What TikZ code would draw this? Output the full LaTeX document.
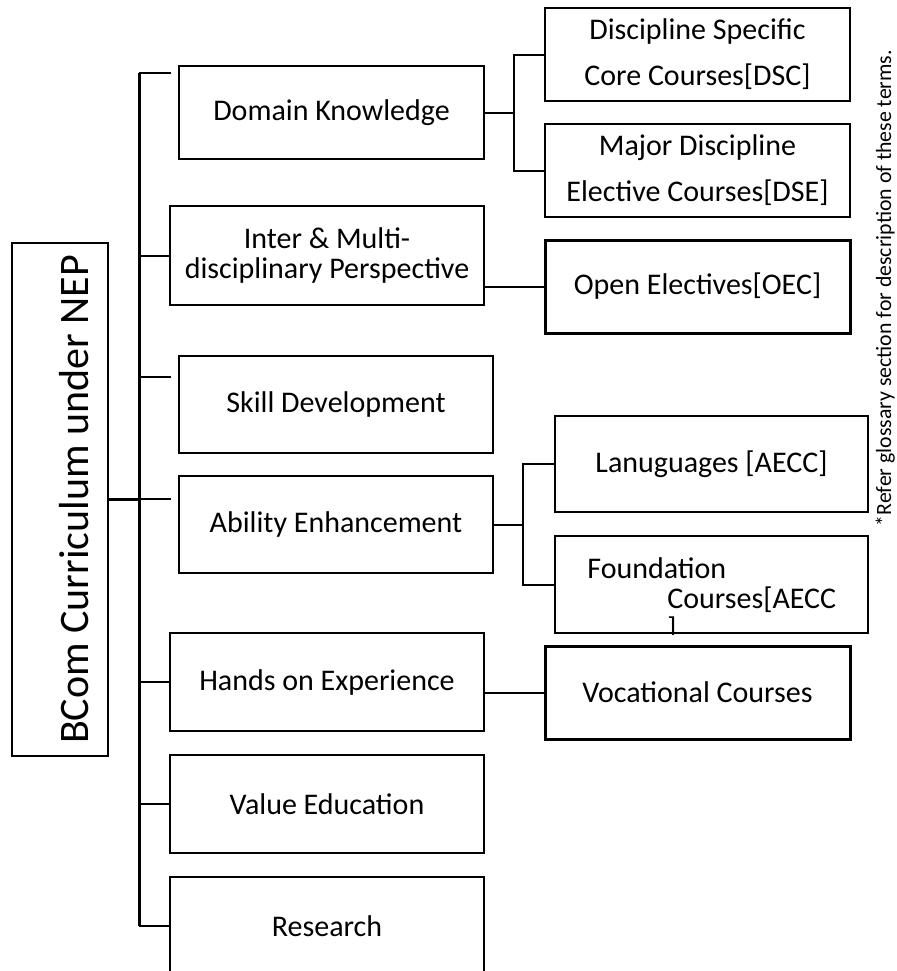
\documentclass[tikz,border=0pt]{standalone}
\usepackage{fontspec}
\setmainfont{Carlito}
\usetikzlibrary{positioning}

\begin{document}
\begin{tikzpicture}[
    x=0.5pt, y=-0.5pt,
    font=\fontsize{15}{18}\selectfont,
    box/.style={draw, line width=1pt, fill=white, align=center, inner sep=0pt, minimum width=157pt, minimum height=49pt},
    slimbox/.style={box, minimum width=152.5pt, minimum height=46.5pt},
    heavybox/.style={slimbox, line width=1.5pt},
    twoline/.style={font=\fontsize{15}{23}\selectfont},
    link/.style={line width=1pt},
    trunkline/.style={line width=1.5pt},
]
\useasboundingbox (0,0) rectangle (896,971);
\clip (0,0) rectangle (896,971);

% Root box
\node[box, rotate=90, minimum width=256.5pt, minimum height=48pt, font=\fontsize{21}{25}\selectfont, text height=28pt, text depth=0pt] (bcom) at (60,499.5) {BCom Curriculum under NEP};

% First level
\node[slimbox] (domain) at (331.5,112.5) {Domain Knowledge};
\node[box, minimum height=49.5pt, font=\fontsize{15}{15}\selectfont] (inter) at (327,255.5) {Inter \& Multi-\\disciplinary Perspective};
\node[box, minimum height=48.5pt] (skill)   at (336,404.5) {Skill Development};
\node[box, minimum height=48.5pt] (ability) at (336,524.5) {Ability Enhancement};
\node[box] (hands)    at (327,682) {Hands on Experience};
\node[box] (value)    at (327,804) {Value Education};
\node[box] (research) at (327,926) {Research};

% Second level
\node[slimbox, twoline] (dsc) at (697.5,54.5)  {Discipline Specific\\Core Courses[DSC]};
\node[slimbox, twoline] (dse) at (697.5,170.5) {Major Discipline\\Elective Courses[DSE]};
\node[heavybox] (oec) at (697.5,286.5) {Open Electives[OEC]};
\node[box, minimum width=156.5pt, minimum height=48pt]   (lang)  at (711.5,464)   {Lanuguages [AECC]};
\node[box, minimum width=156.5pt, minimum height=48.5pt] (found) at (711.5,584.5) {};
\node[heavybox] (voc) at (697.5,692.5) {Vocational Courses};

% Foundation text, cut by its box
\begin{scope}
\clip (found.south west) rectangle (found.north east);
\node[anchor=base west, inner sep=0pt] (foundA) at (587,578) {Foundation};
\node[anchor=base west, inner sep=0pt] (foundB) at (667,608) {Courses[AECC};
\node[anchor=base west, inner sep=0pt] (foundC) at (667,638) {]};
\end{scope}

% Side note
\node[rotate=90, anchor=base, inner sep=0pt, font=\fontsize{10.9}{13}\selectfont] (gloss) at (891,288) {*Refer glossary section for description of these terms.};

% Joints
\coordinate (trunk)    at (139,499);
\coordinate (jdomain)  at (171,73);
\coordinate (jskill)   at (171,377);
\coordinate (jability) at (171,499);
\coordinate (dfork)    at (514,112.5);
\coordinate (afork)    at (523,524.5);

% Trunk and branches
\draw[trunkline] (jdomain -| trunk) -- (research.west -| trunk);
\draw[trunkline] (bcom.south) -- (bcom.south -| trunk);
\foreach \leaf in {jdomain, inter.west, jskill, jability, hands.west, value.west, research.west}
  \draw[link] (\leaf -| trunk) -- (\leaf);

% Sub branches
\draw[link] (domain.east) -- (dfork);
\draw[link] (dsc.west) -| (dfork) |- (dse.west);
\draw[link] (oec.west) -- (oec.west -| inter.east);
\draw[link] (ability.east) -- (afork);
\draw[link] (lang.west) -| (afork) |- (found.west);
\draw[link] (voc.west) -- (voc.west -| hands.east);

\end{tikzpicture}
\end{document}
